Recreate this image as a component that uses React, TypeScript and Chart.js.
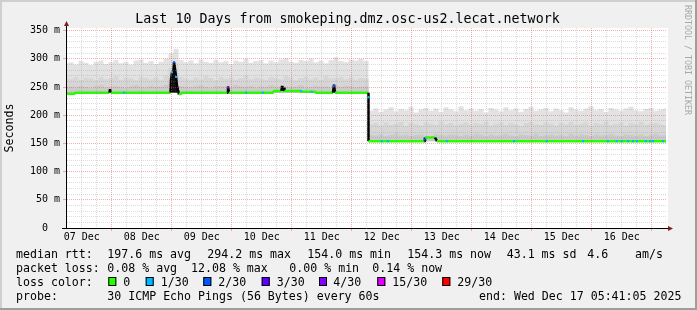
import React, { useEffect, useRef } from 'react';
import { Chart, registerables } from 'chart.js';

Chart.register(...registerables);

const W = 697;
const H = 310;
const MONO = '"DejaVu Sans Mono", "Liberation Mono", monospace';

// ---------------- data ----------------
const titleText = 'Last 10 Days from smokeping.dmz.osc-us2.lecat.network';
const rangeHours = 240; // 10 days, ending Wed Dec 17 05:41:05 2025
const dayLabels = ['07 Dec', '08 Dec', '09 Dec', '10 Dec', '11 Dec', '12 Dec', '13 Dec', '14 Dec', '15 Dec', '16 Dec'];
const firstGridHour = 0.3153; // Dec 7 06:00, hours after the start of the range
const gridStepHours = 6;
const yMaxMs = 354.7;
const yMajorMs = [0, 50, 100, 150, 200, 250, 300, 350];
const yMajorLabels = ['0  ', '50 m', '100 m', '150 m', '200 m', '250 m', '300 m', '350 m'];
const yMinorStepMs = 10;

// smoke samples, one every 2 hours (ms)
const smokeStepHours = 2;
const smokeBase = [
  240, 240, 240, 240, 240, 240, 240, 240, 240, 240,
  240, 240, 240, 240, 240, 240, 240, 240, 240, 240,
  240, 240, 240, 240, 240, 240, 240, 240, 240, 240,
  240, 240, 240, 240, 240, 240, 240, 240, 240, 240,
  240, 240, 240, 240, 240, 240, 240, 240, 240, 240,
  240, 240, 240, 240, 240, 240, 240, 240, 240, 240,
  240,
  154, 154, 154, 154, 154, 154, 154, 154, 154, 154,
  154, 154, 154, 154, 154, 154, 154, 154, 154, 154,
  154, 154, 154, 154, 154, 154, 154, 154, 154, 154,
  154, 154, 154, 154, 154, 154, 154, 154, 154, 154,
  154, 154, 154, 154, 154, 154, 154, 154, 154, 154,
  154, 154, 154, 154, 154, 154, 154, 154, 154, 154,
];
const smokeOuter = [
  292, 294, 290, 296, 293, 289, 295, 297, 291, 294,
  298, 292, 295, 290, 297, 299, 293, 296, 291, 295,
  300, 310, 318, 298, 294, 297, 292, 299, 295, 293,
  298, 294, 296, 291, 297, 295, 300, 293, 296, 298,
  292, 297, 294, 299, 301, 295, 293, 298, 296, 300,
  294, 297, 292, 298, 303, 296, 294, 299, 297, 300,
  296,
  208, 212, 206, 210, 214, 207, 211, 209, 215, 205,
  210, 213, 208, 212, 206, 214, 210, 207, 216, 209,
  212, 208, 211, 205, 213, 210, 207, 214, 209, 212,
  206, 211, 215, 208, 210, 213, 207, 212, 209, 205,
  214, 210, 208, 212, 216, 209, 211, 206, 213, 210,
  208, 212, 215, 209, 207, 211, 213, 208, 210, 212,
];
const smokeMid = [
  266, 264, 268, 263, 267, 265, 262, 268, 264, 266,
  269, 263, 267, 265, 262, 268, 266, 264, 267, 263,
  270, 284, 292, 268, 265, 263, 267, 264, 269, 266,
  262, 268, 265, 267, 263, 266, 270, 264, 267, 265,
  263, 268, 266, 264, 269, 267, 262, 266, 268, 264,
  267, 263, 269, 265, 266, 268, 264, 267, 263, 266,
  265,
  184, 186, 182, 187, 183, 185, 188, 181, 186, 184,
  182, 187, 185, 183, 189, 184, 186, 182, 185, 187,
  183, 186, 184, 188, 182, 185, 187, 183, 186, 184,
  181, 186, 188, 184, 183, 187, 185, 182, 186, 184,
  188, 183, 185, 187, 182, 186, 184, 189, 183, 185,
  187, 182, 186, 184, 188, 183, 185, 186, 184, 182,
];
const smokeInner = [
  250, 251, 249, 252, 250, 248, 251, 253, 249, 250,
  252, 250, 248, 251, 253, 250, 249, 252, 250, 251,
  254, 266, 274, 252, 250, 249, 251, 253, 250, 248,
  251, 252, 250, 249, 253, 251, 250, 252, 248, 251,
  250, 253, 251, 249, 252, 250, 251, 253, 249, 250,
  252, 250, 251, 249, 253, 250, 252, 251, 249, 250,
  251,
  165, 164, 166, 163, 165, 167, 164, 166, 163, 165,
  166, 164, 163, 167, 165, 164, 166, 165, 163, 166,
  164, 167, 165, 163, 166, 164, 165, 167, 164, 163,
  166, 165, 164, 167, 163, 165, 166, 164, 165, 163,
  167, 164, 166, 165, 163, 166, 164, 165, 167, 164,
  163, 166, 165, 164, 166, 163, 165, 167, 164, 165,
];

// dense (dark) smoke during the latency spike on 08 Dec (hours, ms)
const spikeHours = [41.8, 42.2, 42.6, 43.0, 43.4, 43.8, 44.2, 44.6, 45.0, 45.4];
const spikeTopMs = [256, 270, 276, 288, 296, 285, 272, 258, 247, 240];
const spikeFloorMs = 240;

// median rtt (hours, ms)
const medianHours = [
  0, 3.6, 3.6, 17.4, 17.6, 18.0,
  41.8, 42.0, 42.4, 42.8, 43.2, 43.6, 44.0, 44.4, 44.8, 45.2, 46.0, 46.4,
  64.4, 64.8, 65.2,
  82.8, 83.2, 86.2, 86.4, 86.6, 87.0, 87.2, 87.4, 93.6, 94.4, 99.6, 100.0,
  106.8, 107.2, 107.6,
  121.0, 121.0,
  143.4, 143.6, 147.6, 148.4,
  240,
];
const medianMs = [
  238, 238, 240, 240, 246, 240,
  240, 262, 276, 266, 294, 282, 268, 252, 244, 237, 238, 240,
  240, 251, 240,
  240, 243, 243, 252, 243, 243, 249, 243, 243, 241.5, 241.5, 240,
  240, 254, 240,
  240, 154,
  154, 160.5, 160.5, 154,
  154,
];

// packet-loss marks on the median line
const lossHours = [23.2, 42.4, 43.2, 44.0, 64.8, 72, 78.8, 94, 98.3, 107.2, 121, 126.3, 128.7, 143.4, 152.3, 179.2, 192.3, 206.8, 216.8, 220.3, 222.3, 224.8, 226.8, 228.4, 231.9, 233.6, 234.8, 238.8];
const lossMs = [240, 276, 294, 268, 249, 240, 240, 243, 241.5, 252, 232, 154, 154, 157, 154, 154, 154, 154, 154, 154, 154, 154, 154, 154, 154, 154, 154, 154];
const lossCounts = [1, 1, 2, 1, 3, 1, 1, 1, 1, 2, 1, 1, 1, 2, 1, 1, 1, 1, 1, 1, 1, 1, 1, 1, 1, 1, 1, 1];

const lossLegendCounts = [0, 1, 2, 3, 4, 15, 29];
const lossLegendLabels = ['0', '1/30', '2/30', '3/30', '4/30', '15/30', '29/30'];
const lossLegendColors = ['#26ff00', '#00b8ff', '#0059ff', '#5e00ff', '#7e00ff', '#dd00ff', '#ff0000'];

const rttLabels = ['median rtt:', '197.6 ms avg', '294.2 ms max', '154.0 ms min', '154.3 ms now', '43.1 ms sd', '4.6', 'am/s'];
const lossLabels = ['packet loss:', '0.08 % avg', '12.08 % max', '0.00 % min', '0.14 % now'];
const probeLabels = ['probe:', '30 ICMP Echo Pings (56 Bytes) every 60s', 'end: Wed Dec 17 05:41:05 2025'];
const watermark = 'RRDTOOL / TOBI OETIKER';

// ---------------- layout of the text block ----------------
const rttX = [16, 107.3, 207.3, 307.3, 407.3, 506.7, 587.3, 635];
const lossX = [16, 107.3, 191, 289.3, 372.3];
const probeX = [16, 107.3, 479];
const swatchX = [108.3, 145.7, 203.3, 261.7, 319, 377.3, 442.3];
const swatchTextX = [123.3, 160.7, 218.3, 276.7, 333.3, 392.3, 457.3];
const rowBase = [258, 272, 286, 300];

function lossColor(n: number): string {
  let c = lossLegendColors[0];
  for (let i = 0; i < lossLegendCounts.length; i++) if (n >= lossLegendCounts[i]) c = lossLegendColors[i];
  return c;
}

const xTickValues: number[] = [];
for (let v = firstGridHour; v <= rangeHours; v += gridStepHours) xTickValues.push(v);
const yTickValues: number[] = [];
for (let v = 0; v <= 350; v += yMinorStepMs) yTickValues.push(v);

const gridIndex = (v: number) => Math.round((v - firstGridHour) / gridStepHours);
const MINOR = 'rgba(140,140,140,0.3)';
const MAJOR = 'rgba(222,81,81,0.45)';

const decor = {
  id: 'rrdDecor',
  beforeDraw(chart: any) {
    const { ctx, chartArea: a } = chart;
    ctx.save();
    ctx.fillStyle = '#f0f0f0';
    ctx.fillRect(0, 0, W, H);
    ctx.fillStyle = '#cfcfcf';
    ctx.fillRect(0, 0, W, 2);
    ctx.fillRect(0, 0, 2, H);
    ctx.fillStyle = '#9e9e9e';
    ctx.fillRect(0, H - 2, W, 2);
    ctx.fillRect(W - 2, 0, 2, H);
    ctx.fillStyle = '#ffffff';
    ctx.fillRect(a.left, a.top, a.right - a.left + 2, a.bottom - a.top);
    ctx.restore();
  },
  afterDraw(chart: any) {
    const { ctx, chartArea: a } = chart;
    ctx.save();
    // axis extensions + arrows
    ctx.strokeStyle = '#000';
    ctx.lineWidth = 1;
    ctx.beginPath();
    ctx.moveTo(a.left + 0.5, a.top);
    ctx.lineTo(a.left + 0.5, a.top - 3);
    ctx.moveTo(a.right, a.bottom + 0.5);
    ctx.lineTo(a.right + 3, a.bottom + 0.5);
    ctx.moveTo(a.left - 4, a.bottom + 0.5);
    ctx.lineTo(a.left, a.bottom + 0.5);
    ctx.stroke();
    ctx.fillStyle = '#7f1f1f';
    ctx.beginPath();
    ctx.moveTo(a.left + 0.5, a.top - 7);
    ctx.lineTo(a.left + 3, a.top - 2);
    ctx.lineTo(a.left - 2, a.top - 2);
    ctx.closePath();
    ctx.fill();
    ctx.beginPath();
    ctx.moveTo(a.right + 7, a.bottom + 0.5);
    ctx.lineTo(a.right + 2, a.bottom + 3);
    ctx.lineTo(a.right + 2, a.bottom - 2);
    ctx.closePath();
    ctx.fill();

    // legend text
    ctx.fillStyle = '#000';
    ctx.font = `11.6px ${MONO}`;
    ctx.textBaseline = 'alphabetic';
    ctx.textAlign = 'left';
    rttLabels.forEach((t, i) => ctx.fillText(t, rttX[i], rowBase[0]));
    lossLabels.forEach((t, i) => ctx.fillText(t, lossX[i], rowBase[1]));
    ctx.fillText('loss color:', 16, rowBase[2]);
    lossLegendLabels.forEach((t, i) => {
      ctx.fillStyle = lossLegendColors[i];
      ctx.fillRect(swatchX[i], rowBase[2] - 9, 8, 9);
      ctx.strokeStyle = '#000';
      ctx.strokeRect(swatchX[i] + 0.5, rowBase[2] - 8.5, 7, 8);
      ctx.fillStyle = '#000';
      ctx.fillText(t, swatchTextX[i], rowBase[2]);
    });
    probeLabels.forEach((t, i) => ctx.fillText(t, probeX[i], rowBase[3]));

    // watermark
    ctx.save();
    ctx.translate(687, 5);
    ctx.rotate(Math.PI / 2);
    ctx.fillStyle = '#a8a8a8';
    ctx.font = `8.3px ${MONO}`;
    ctx.textBaseline = 'middle';
    ctx.fillText(watermark, 0, 0);
    ctx.restore();
    ctx.restore();
  },
};

export default function App() {
  const ref = useRef<HTMLCanvasElement>(null);
  useEffect(() => {
    document.body.style.margin = '0';
    const BASE_INDEX = 6;
    const smokePts = (arr: number[]) => arr.map((y, i) => ({ x: i * smokeStepHours, y }));
    const smokeDs = (arr: number[], color: string, fill: any) => ({
      type: 'line' as const,
      data: smokePts(arr),
      borderWidth: 0,
      borderColor: color,
      backgroundColor: color,
      pointRadius: 0,
      stepped: 'middle' as const,
      fill,
    });
    const chart = new Chart(ref.current!, {
      type: 'line',
      data: {
        datasets: [
          {
            type: 'scatter',
            data: lossHours.map((h, i) => ({ x: h, y: lossMs[i] })),
            pointStyle: 'rect',
            pointRadius: 1.5,
            pointBorderWidth: 0,
            pointBackgroundColor: lossCounts.map(lossColor),
            showLine: false,
          } as any,
          {
            type: 'line',
            data: medianHours.map((h, i) => ({ x: h, y: medianMs[i] })),
            borderColor: lossLegendColors[0],
            borderWidth: 2.5,
            borderJoinStyle: 'bevel',
            borderCapStyle: 'butt',
            pointRadius: 0,
            fill: false,
            segment: {
              borderColor: (c: any) => (Math.abs(c.p0.parsed.y - c.p1.parsed.y) > 3.5 ? '#000000' : lossLegendColors[0]),
            },
          } as any,
          {
            type: 'line',
            data: spikeHours.map((h, i) => ({ x: h, y: spikeTopMs[i] })),
            borderWidth: 0,
            borderColor: '#141414',
            backgroundColor: '#141414',
            pointRadius: 0,
            fill: { value: spikeFloorMs },
          } as any,
          smokeDs(smokeInner, '#cacaca', BASE_INDEX),
          smokeDs(smokeMid, '#d6d6d6', BASE_INDEX),
          smokeDs(smokeOuter, '#e2e2e2', BASE_INDEX),
          smokeDs(smokeBase, 'rgba(0,0,0,0)', false),
        ],
      },
      options: {
        animation: false,
        responsive: false,
        devicePixelRatio: 1,
        layout: { padding: { left: 0, right: 2, top: 0, bottom: 0 } },
        plugins: {
          legend: { display: false },
          tooltip: { enabled: false },
          title: {
            display: true,
            text: titleText,
            color: '#000',
            font: { family: MONO, size: 13.3, weight: 'normal', lineHeight: 1.2 },
            padding: { top: 11.4, bottom: 0.64 },
          },
        },
        scales: {
          x: {
            type: 'linear',
            min: 0,
            max: rangeHours,
            afterFit: (s: any) => { s.height = H - 228; },
            afterBuildTicks: (s: any) => { s.ticks = xTickValues.map((v) => ({ value: v })); },
            ticks: {
              autoSkip: false,
              maxRotation: 0,
              minRotation: 0,
              padding: 0.5,
              color: '#000',
              font: { family: MONO, size: 10 },
              callback: (v: any) => {
                const k = gridIndex(Number(v));
                return k % 4 === 1 ? dayLabels[(k - 1) / 4] ?? '' : '';
              },
            },
            grid: {
              z: 1,
              lineWidth: 1,
              color: (c: any) => (c.tick && gridIndex(c.tick.value) % 4 === 3 ? MAJOR : MINOR),
              tickLength: 3,
              tickColor: (c: any) => (c.tick && gridIndex(c.tick.value) % 4 === 3 ? MAJOR : 'rgba(0,0,0,0)'),
            },
            border: { display: true, color: '#000', width: 1, dash: [1, 1], z: 2 },
          },
          y: {
            type: 'linear',
            min: 0,
            max: yMaxMs,
            afterFit: (s: any) => { s.width = 66; },
            afterBuildTicks: (s: any) => { s.ticks = yTickValues.map((v) => ({ value: v })); },
            title: {
              display: true,
              text: 'Seconds',
              color: '#000',
              font: { family: MONO, size: 11.6, lineHeight: 1.2 },
              padding: { top: 3.1, bottom: 0 },
            },
            ticks: {
              autoSkip: false,
              padding: 3,
              color: '#000',
              font: { family: MONO, size: 10 },
              callback: (v: any) => {
                const i = yMajorMs.indexOf(Number(v));
                return i >= 0 ? yMajorLabels[i] : '';
              },
            },
            grid: {
              z: 1,
              lineWidth: 1,
              color: (c: any) => (c.tick && c.tick.value % 50 === 0 ? MAJOR : MINOR),
              tickLength: 3,
              tickColor: (c: any) => (c.tick && c.tick.value % 50 === 0 ? MAJOR : 'rgba(0,0,0,0)'),
            },
            border: { display: true, color: '#000', width: 1, dash: [1, 1], z: 2 },
          },
          yRight: {
            type: 'linear',
            position: 'right',
            display: true,
            afterFit: (s: any) => { s.width = 29; },
            grid: { display: false },
            ticks: { display: false },
            border: { display: false },
          },
        },
      } as any,
      plugins: [decor],
    } as any);
    return () => chart.destroy();
  }, []);
  return <canvas ref={ref} width={W} height={H} style={{ display: 'block', width: W, height: H }} />;
}
